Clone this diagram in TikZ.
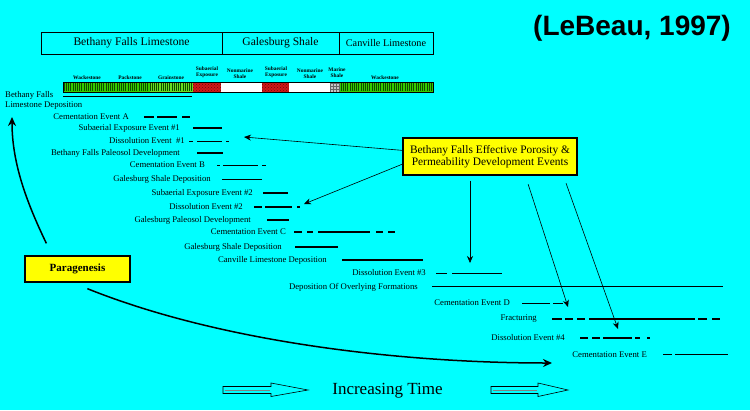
\documentclass[tikz,border=0pt]{standalone}
\usepackage{fontspec}
\setmainfont{Liberation Serif}
\newfontfamily\titlefont{Liberation Sans}
\usetikzlibrary{patterns,arrows.meta,calc}
\definecolor{bgcyan}{HTML}{00FFFF}
\definecolor{grn}{HTML}{33CC00}
\definecolor{dgrn}{HTML}{0E4A00}
\definecolor{lgrn}{HTML}{66DD22}
\definecolor{rd}{HTML}{D01818}
\definecolor{drd}{HTML}{6A0A0A}
\definecolor{yel}{HTML}{FFFF00}
\tikzset{
  lbl/.style={anchor=east,inner sep=0pt,font=\fontsize{8.7}{9}\selectfont},
  lleft/.style={anchor=west,inner sep=0pt,font=\fontsize{8.7}{9}\selectfont},
  tinylbl/.style={inner sep=0pt,align=center,font=\fontsize{5.4}{6.2}\selectfont\bfseries},
  headbox/.style={draw,line width=0.7pt,minimum height=22pt,inner sep=0pt,font=\fontsize{11.6}{12}\selectfont},
  thickbar/.style={line width=2.6pt},
  medbar/.style={line width=1.5pt},
  thinbar/.style={line width=0.9pt},
  callout/.style={draw,fill=yel,line width=1.3pt,inner sep=0pt,align=center},
  arr/.style={-{Stealth[length=7pt,width=6pt]},line width=0.6pt},
  bigarr/.style={-{Stealth[length=9pt,width=8pt]},line width=1.5pt},
  hollow/.style={draw=black,line width=0.6pt,fill=bgcyan}
}
\begin{document}
\begin{tikzpicture}[x=1pt,y=-1pt]
\fill[bgcyan] (0,0) rectangle (750,410);
\useasboundingbox (0,0) rectangle (750,410);

% title
\node[font=\titlefont\fontsize{28}{30}\selectfont\bfseries,inner sep=0pt] (title) at (632,28) {(LeBeau, 1997)};

% header boxes
\node[headbox,minimum width=181pt] (hb1) at (131.5,43) {Bethany Falls Limestone};
\node[headbox,minimum width=117pt] (hb2) at (280.5,43) {Galesburg Shale};
\node[headbox,minimum width=94pt,font=\fontsize{10.2}{11}\selectfont] (hb3) at (386,43) {Canville Limestone};

% strip labels
\node[tinylbl] (w1) at (87,78) {Wackestone};
\node[tinylbl] (p1) at (130,78) {Packstone};
\node[tinylbl] (g1) at (171,78) {Grainstone};
\node[tinylbl] (s1) at (207,72.5) {Subaerial\\Exposure};
\node[tinylbl] (n1) at (240,73.5) {Nonmarine\\Shale};
\node[tinylbl] (s2) at (276,72.5) {Subaerial\\Exposure};
\node[tinylbl] (n2) at (310,73.5) {Nonmarine\\Shale};
\node[tinylbl] (m1) at (337,72.5) {Marine\\Shale};
\node[tinylbl] (w2) at (385,78) {Wackestone};

% strip
\fill[grn] (63,82) rectangle (150,92);
\fill[lgrn] (150,82) rectangle (193,92);
\foreach \x in {64,66.2,...,192} \draw[dgrn,line width=0.6pt] (\x,82.6)--(\x,91.4);
\fill[grn] (340,82) rectangle (433,92);
\foreach \x in {341,343.2,...,432} \draw[dgrn,line width=0.6pt] (\x,82.6)--(\x,91.4);
\fill[rd] (193,82) rectangle (221,92);
\fill[pattern=crosshatch dots,pattern color=drd] (193,82) rectangle (221,92);
\fill[white] (221,82) rectangle (262,92);
\fill[rd] (262,82) rectangle (289,92);
\fill[pattern=crosshatch dots,pattern color=drd] (262,82) rectangle (289,92);
\fill[white] (289,82) rectangle (330,92);
\fill[gray!45] (330,82) rectangle (340,92);
\fill[pattern=grid,pattern color=gray!80!black] (330,82) rectangle (340,92);
\draw[line width=0.5pt] (63,82) rectangle (433,92);

% left labels
\node[lleft] (bf1) at (5,95.5) {Bethany Falls};
\node[lleft] (bf2) at (5,105.5) {Limestone Deposition};
\draw[medbar] (63,96.5)--(192,96.5);

% events
\node[lbl] (ea) at (129,117) {Cementation Event A};
\draw[thickbar] (144,117)--(154,117) (157,117)--(177,117) (182,117)--(190,117);

\node[lbl] (se1) at (180,128) {Subaerial Exposure Event \#1};
\draw[medbar] (193,128)--(222,128);

\node[lbl] (d1) at (185,141) {Dissolution Event\enspace\#1};
\draw[thinbar] (189,141)--(193,141) (197,141)--(222,141) (226,141)--(229,141);

\node[lbl] (bp) at (180,153) {Bethany Falls Paleosol Development};
\draw[medbar] (197,153)--(223,153);

\node[lbl] (eb) at (205,165) {Cementation Event B};
\draw[thinbar] (217,165)--(220,165) (223,165)--(258,165) (262,165)--(266,165);

\node[lbl] (gs1) at (211,179) {Galesburg Shale Deposition};
\draw[thinbar] (222,179)--(262,179);

\node[lbl] (se2) at (253,193) {Subaerial Exposure Event \#2};
\draw[medbar] (263,193)--(288,193);

\node[lbl] (d2) at (243,207) {Dissolution Event \#2};
\draw[thickbar] (254,207)--(262,207) (265,207)--(292,207) (297,207)--(300,207);

\node[lbl] (gp) at (251,220) {Galesburg Paleosol Development};
\draw[medbar] (267,220)--(289,220);

\node[lbl] (ec) at (286,232) {Cementation Event C};
\draw[thickbar] (294,232)--(302,232) (307,232)--(313,232) (318,232)--(370,232) (376,232)--(383,232) (388,232)--(395,232);

\node[lbl] (gs2) at (282,247) {Galesburg Shale Deposition};
\draw[medbar] (295,247)--(338,247);

\node[lbl] (cl) at (327,260) {Canville Limestone Deposition};
\draw[medbar] (342,260)--(423,260);

\node[lbl] (d3) at (426,273) {Dissolution Event \#3};
\draw[thinbar] (436,273)--(447,273) (452,273)--(502,273);

\node[lbl] (ov) at (418,287) {Deposition Of Overlying Formations};
\draw[medbar] (432,286.5)--(723,286.5);

\node[lbl] (ed) at (510,303) {Cementation Event D};
\draw[thinbar] (522,303)--(550,303) (553,303)--(563,303);

\node[lbl] (fr) at (537,319) {Fracturing};
\draw[thickbar] (552,319)--(562,319) (565,319)--(573,319) (577,319)--(585,319) (589,319)--(695,319) (698,319)--(707,319) (712,319)--(720,319);

\node[lbl] (d4) at (565,338) {Dissolution Event \#4};
\draw[thickbar] (580,338)--(588,338) (592,338)--(600,338) (603,338)--(632,338) (635,338)--(640,338) (647,338)--(650,338);

\node[lbl] (ee) at (647,355) {Cementation Event E};
\draw[thinbar] (663,354)--(672,354) (675,354)--(728,354);

% callout boxes
\node[callout,minimum width=174pt,minimum height=37pt,font=\fontsize{11.4}{12.5}\selectfont] (pbox) at (490,156.5) {Bethany Falls Effective Porosity \&\\Permeability Development Events};
\node[callout,minimum width=105pt,minimum height=26pt,font=\fontsize{11}{12}\selectfont\bfseries] (para) at (77.5,269) {Paragenesis};

% arrow tips
\coordinate (t1) at (244,137);
\coordinate (t2) at (304,204);
\coordinate (t3) at (470,263);
\coordinate (t4) at (568,307);
\coordinate (t5) at (618,329);
\coordinate (tup) at (12,117);
\coordinate (tbot) at (552,363);

\draw[arr] (pbox.176) -- (t1);
\draw[arr] (pbox.185) -- (t2);
\draw[arr,shorten <=5pt] (pbox.south -| t3) -- (t3);
\draw[arr,shorten <=9pt] ($(pbox.south west)+(123,0)$) -- (t4);
\draw[arr,shorten <=8pt] ($(pbox.south west)+(161,0)$) -- (t5);

\draw[bigarr] ($(para.north west)+(22,-12)$) .. controls (28,205) and (12,165) .. (tup);
\draw[bigarr] ($(para.south west)+(63,6)$) .. controls (220,342) and (400,363) .. (tbot);

% increasing time
\node[font=\fontsize{17}{18}\selectfont,inner sep=0pt] (it) at (387.5,391) {Increasing Time};
\draw[hollow] (223,386.5) -- (271,386.5) -- (271,383) -- (308,390) -- (271,396.5) -- (271,393.5) -- (223,393.5) -- cycle;
\draw[line width=0.4pt,gray] (225,390)--(270,390);
\draw[hollow] (491,386.5) -- (538,386.5) -- (538,383) -- (568,390) -- (538,396.5) -- (538,393.5) -- (491,393.5) -- cycle;
\draw[line width=0.4pt,gray] (493,390)--(537,390);
\end{tikzpicture}
\end{document}
